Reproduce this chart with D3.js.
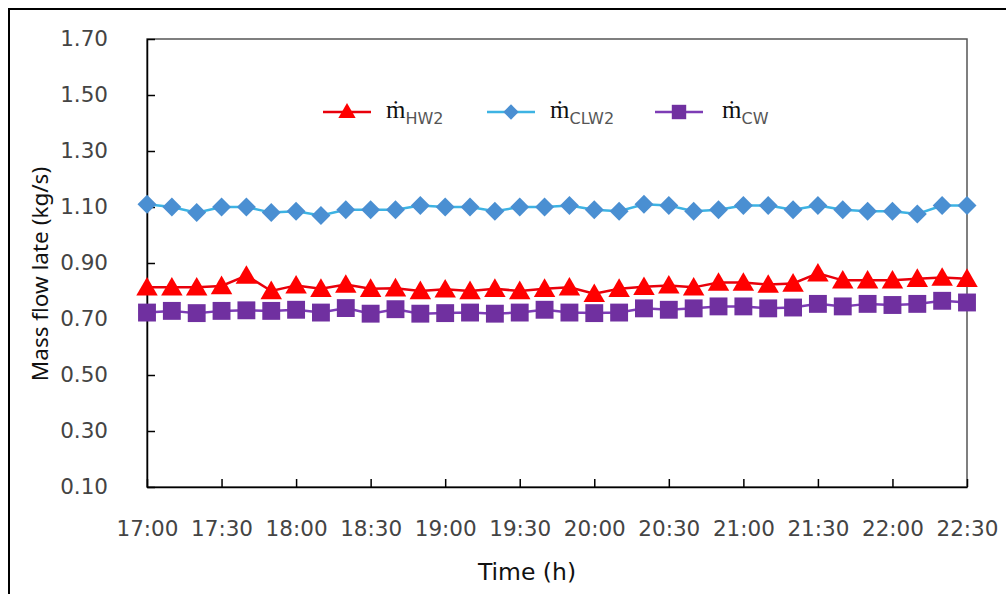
<!DOCTYPE html>
<html>
<head>
<meta charset="utf-8">
<script src="https://cdn.jsdelivr.net/npm/d3@7"></script>
<style>
  html, body { margin: 0; padding: 0; background: #fff; }
  svg { display: block; }
</style>
</head>
<body>
<svg id="chart" width="1006" height="594"></svg>
<script>
const times = ["17:00","17:10","17:20","17:30","17:40","17:50","18:00","18:10","18:20","18:30","18:40","18:50",
  "19:00","19:10","19:20","19:30","19:40","19:50","20:00","20:10","20:20","20:30","20:40","20:50",
  "21:00","21:10","21:20","21:30","21:40","21:50","22:00","22:10","22:20","22:30"];
const xTickLabels = ["17:00","17:30","18:00","18:30","19:00","19:30","20:00","20:30","21:00","21:30","22:00","22:30"];
const yTicks = [0.10, 0.30, 0.50, 0.70, 0.90, 1.10, 1.30, 1.50, 1.70];

const mHW2 = [0.813,0.813,0.813,0.818,0.855,0.800,0.820,0.808,0.823,0.808,0.810,0.800,
  0.806,0.800,0.808,0.800,0.808,0.813,0.790,0.808,0.815,0.820,0.813,0.830,
  0.830,0.823,0.827,0.863,0.838,0.838,0.838,0.844,0.848,0.844];
const mCLW2 = [1.110,1.100,1.080,1.100,1.100,1.080,1.085,1.070,1.090,1.090,1.090,1.105,
  1.100,1.100,1.085,1.100,1.100,1.105,1.090,1.085,1.110,1.105,1.085,1.090,
  1.105,1.105,1.090,1.105,1.090,1.085,1.085,1.075,1.105,1.105];
const mCW = [0.723,0.729,0.721,0.729,0.731,0.729,0.733,0.723,0.739,0.719,0.735,0.719,
  0.721,0.723,0.719,0.723,0.733,0.723,0.721,0.723,0.738,0.733,0.738,0.745,
  0.745,0.738,0.741,0.754,0.745,0.754,0.750,0.754,0.765,0.759];

const svg = d3.select("#chart");
const L = 147, R = 967, T = 39, B = 487;

const x = d3.scalePoint().domain(times).range([L, R]);
const y = d3.scaleLinear().domain([0.1, 1.7]).range([B, T]);

const tickFont = "'DejaVu Sans', sans-serif";

// outer frame
svg.append("path").attr("d", "M9,594 L9,9 L1006,9").attr("fill","none").attr("stroke","#000").attr("stroke-width",2);

// plot frame
svg.append("rect").attr("x", L).attr("y", T).attr("width", R - L).attr("height", B - T)
  .attr("fill","none").attr("stroke","#555").attr("stroke-width",1.5);

// y axis
const yAxis = d3.axisLeft(y).tickValues(yTicks).tickSizeInner(-8).tickSizeOuter(0).tickPadding(39)
  .tickFormat(d3.format(".2f"));
const gy = svg.append("g").attr("transform", `translate(${L},0)`).call(yAxis);
gy.select(".domain").attr("stroke","#000").attr("stroke-width",1.5);
gy.selectAll(".tick line").attr("stroke","#000").attr("stroke-width",1.5);
gy.selectAll(".tick text").attr("font-family", tickFont).attr("font-size", 21.5).attr("fill","#444");

// x axis
const xAxis = d3.axisBottom(x).tickValues(xTickLabels).tickSizeInner(-8).tickSizeOuter(0).tickPadding(34);
const gx = svg.append("g").attr("transform", `translate(0,${B})`).call(xAxis);
gx.select(".domain").attr("stroke","#000").attr("stroke-width",1.5);
gx.selectAll(".tick line").attr("stroke","#000").attr("stroke-width",1.5);
gx.selectAll(".tick text").attr("font-family", tickFont).attr("font-size", 21.5).attr("fill","#444");

// axis titles
svg.append("text").attr("x", 527).attr("y", 580).attr("text-anchor","middle")
  .attr("font-family", tickFont).attr("font-size", 23.5).attr("fill","#111").text("Time (h)");
svg.append("text").attr("transform", "translate(48,274) rotate(-90)").attr("text-anchor","middle")
  .attr("font-family", "'Noto Sans', sans-serif").attr("font-size", 22.5).attr("fill","#111").text("Mass flow late (kg/s)");

const diamond = {
  draw(ctx, size) {
    const r = Math.sqrt(size / 2);
    ctx.moveTo(0, -r); ctx.lineTo(r, 0); ctx.lineTo(0, r); ctx.lineTo(-r, 0); ctx.closePath();
  }
};

const styles = {
  HW2: { data: mHW2, line: "#E8000B", fill: "#FF0000", shape: d3.symbolTriangle, size: 200, dy: 2 },
  CLW2: { data: mCLW2, line: "#3DB3E3", fill: "#4A8FD2", shape: diamond, size: 180, dy: 0 },
  CW: { data: mCW, line: "#7D3CB5", fill: "#7030A0", shape: d3.symbolSquare, size: 320, dy: 0 }
};

const lineGen = d3.line().x((d, i) => x(times[i])).y(d => y(d));

["CLW2","HW2","CW"].forEach(name => {
  const s = styles[name];
  svg.append("path").datum(s.data).attr("d", lineGen)
    .attr("fill","none").attr("stroke", s.line).attr("stroke-width", 2.5);
  svg.append("g").selectAll("path").data(s.data).join("path")
    .attr("transform", (d, i) => `translate(${x(times[i])},${y(d) + s.dy})`)
    .attr("d", d3.symbol().type(s.shape).size(s.size))
    .attr("fill", s.fill);
});

// legend
const legendItems = [
  { name: "HW2", lx: 323, tx: 386 },
  { name: "CLW2", lx: 487, tx: 550 },
  { name: "CW", lx: 655, tx: 722 }
];
const ly = 112;
legendItems.forEach(it => {
  const s = styles[it.name];
  svg.append("line").attr("x1", it.lx).attr("x2", it.lx + 48).attr("y1", ly).attr("y2", ly)
    .attr("stroke", s.line).attr("stroke-width", 2.5);
  svg.append("path").attr("transform", `translate(${it.lx + 24},${ly + (it.name === "HW2" ? 1 : 0)})`)
    .attr("d", d3.symbol().type(s.shape).size(s.size * 0.65)).attr("fill", s.fill);
  const t = svg.append("text").attr("x", it.tx).attr("y", ly + 6);
  t.append("tspan").attr("font-family", "'Liberation Serif', 'Times New Roman', serif")
    .attr("font-size", 25).attr("fill", "#111").text("ṁ");
  t.append("tspan").attr("font-family", tickFont).attr("font-size", 16).attr("fill", "#555")
    .attr("dy", 6).text(it.name);
});
</script>
</body>
</html>
